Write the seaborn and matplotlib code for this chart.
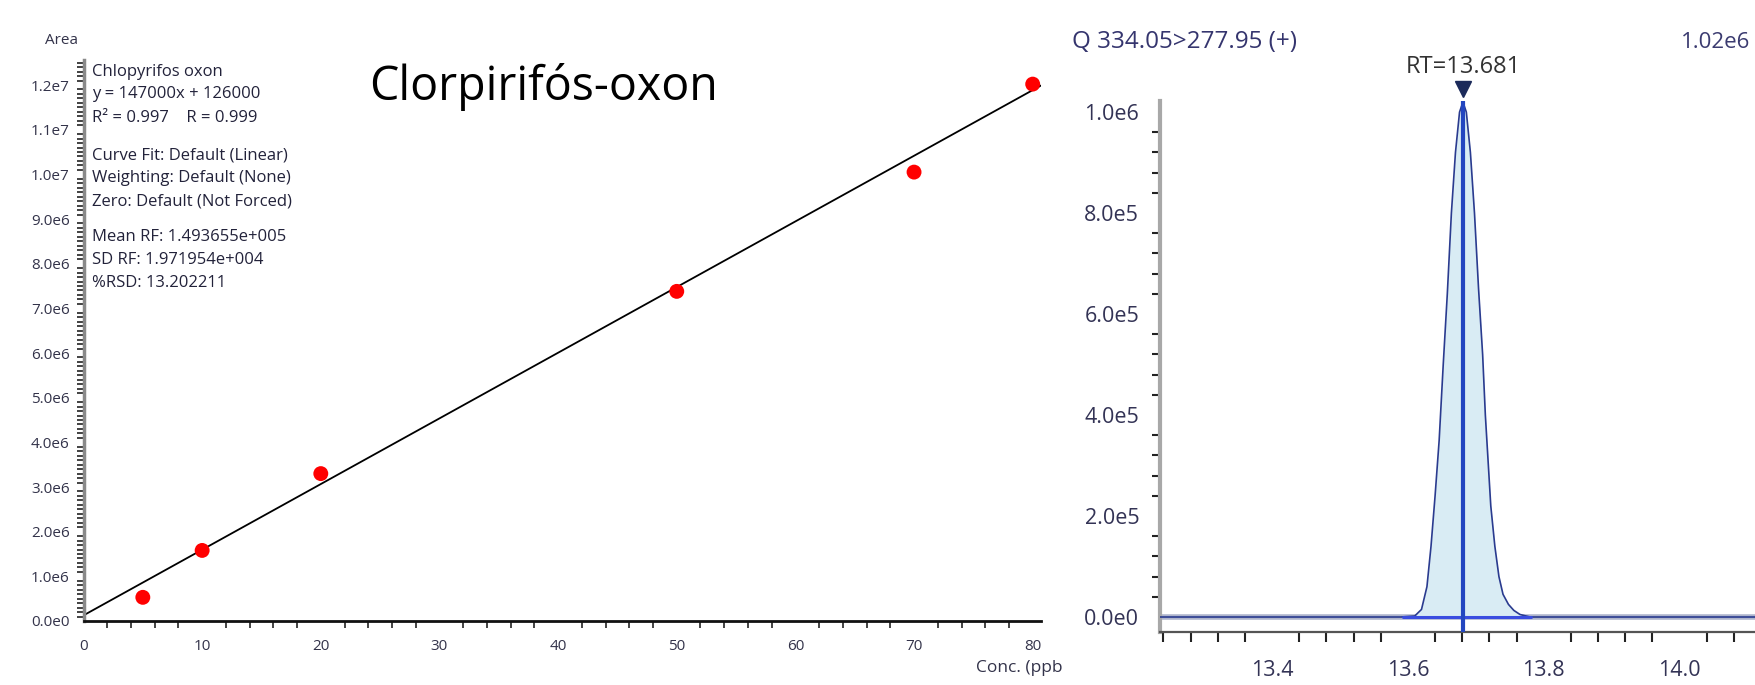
import seaborn as sns
import matplotlib.pyplot as plt
import matplotlib.ticker as mticker
import matplotlib.transforms as mtransforms
import numpy as np

sns.set_style("white")
plt.rcParams['font.family'] = ['Open Sans', 'DejaVu Sans']

# calibration curve
conc = [5, 10, 20, 50, 70, 80]
area = [0.53e6, 1.58e6, 3.30e6, 7.38e6, 10.05e6, 12.02e6]
slope = 147000
intercept = 126000
fit_text = ["Chlopyrifos oxon",
            "y = 147000x + 126000",
            "R\u00b2 = 0.997    R = 0.999",
            "Curve Fit: Default (Linear)",
            "Weighting: Default (None)",
            "Zero: Default (Not Forced)",
            "Mean RF: 1.493655e+005",
            "SD RF: 1.971954e+004",
            "%RSD: 13.202211"]

# chromatogram trace around the peak
rt_min = [13.234, 13.590, 13.610, 13.620, 13.628, 13.634, 13.640, 13.646, 13.652,
          13.658, 13.664, 13.670, 13.676, 13.681, 13.686, 13.692, 13.698, 13.704,
          13.710, 13.714, 13.722, 13.728, 13.734, 13.740, 13.748, 13.756, 13.765,
          13.780, 14.111]
signal = [0, 0, 0.002e6, 0.015e6, 0.060e6, 0.140e6, 0.240e6, 0.350e6, 0.500e6,
          0.640e6, 0.800e6, 0.920e6, 1.000e6, 1.020e6, 1.000e6, 0.920e6, 0.800e6, 0.650e6,
          0.520e6, 0.400e6, 0.220e6, 0.140e6, 0.080e6, 0.045e6, 0.025e6, 0.013e6, 0.005e6,
          0, 0]
peak_rt = 13.681
int_start, int_end = 13.593, 13.781


def sci(v, pos):
    if v == 0:
        return "0.0e0"
    e = int(np.floor(np.log10(abs(v)) + 1e-9))
    return f"{v / 10**e:.1f}e{e}"


W, H = 1755, 685
fig = plt.figure(figsize=(W / 100, H / 100), dpi=100)

def box(x0, y0, x1, y1):
    return [x0 / W, 1 - y1 / H, (x1 - x0) / W, (y1 - y0) / H]

# ---- calibration panel ----
ax1 = fig.add_axes(box(83.5, 60, 1041, 621))
sns.scatterplot(x=conc, y=area, color='#ff0000', s=115, edgecolor='none', zorder=3, ax=ax1)
ax1.axline((0, intercept), slope=slope, color='black', lw=1.3, zorder=2)
ax1.set_xlim(0, 80.7)
ax1.set_ylim(0, 12.56e6)
ax1.xaxis.set_major_locator(mticker.MultipleLocator(10))
ax1.xaxis.set_minor_locator(mticker.MultipleLocator(2))
ax1.yaxis.set_major_locator(mticker.MultipleLocator(1e6))
ax1.yaxis.set_minor_locator(mticker.MultipleLocator(1e5))
ax1.yaxis.set_major_formatter(mticker.FuncFormatter(sci))
ax1.tick_params(axis='both', which='both', direction='out', labelsize=11,
                labelcolor='#33334a', color='#222222')
ax1.tick_params(axis='y', which='major', length=8, width=1.5, pad=2)
ax1.tick_params(axis='y', which='minor', length=5, width=1.2, left=True)
ax1.tick_params(axis='x', which='major', length=6, width=1.5, pad=7)
ax1.tick_params(axis='x', which='minor', length=5, width=1.2, bottom=True)
for s in ['top', 'right']:
    ax1.spines[s].set_visible(False)
ax1.spines['left'].set_color('#8a8a8a')
ax1.spines['left'].set_linewidth(2.5)
ax1.spines['bottom'].set_color('#111111')
ax1.spines['bottom'].set_linewidth(2)
ax1.set_xlabel('')
ax1.set_ylabel('')

fig.text(62 / W, 1 - 40 / H, "Area", fontsize=11, color='#33334a', ha='center', va='center')
fig.text(976 / W, 1 - 668 / H, "Conc. (ppb", fontsize=12.5, color='#33334a', ha='left', va='center')
line_y = [72, 94, 118, 155, 178, 202, 237, 260, 283]
for txt, ly in zip(fit_text, line_y):
    fig.text(92 / W, 1 - ly / H, txt, fontsize=12, color='#22223a', ha='left', va='center')
fig.text(369 / W, 1 - 87 / H, "Clorpirif\u00f3s-oxon", fontsize=33.5, color='black',
         ha='left', va='center')

# ---- chromatogram panel ----
ax2 = fig.add_axes(box(1160, 101, 1755, 632))
ax2.plot([rt_min[0], rt_min[-1]], [0, 0], color='#aeb4cc', lw=4, zorder=1, solid_capstyle='butt')
ax2.fill_between(rt_min, signal, 0, color='#d9ecf4', zorder=2, lw=0)
sns.lineplot(x=rt_min, y=signal, color='#2a3b8f', lw=1.2, sort=False, estimator=None,
             zorder=3, ax=ax2)
ax2.plot([int_start, int_end], [0, 0], color='#3a4de0', lw=2.2, zorder=4)
ax2.axvline(peak_rt, color='#2346c0', lw=3, zorder=5)
ax2.plot([peak_rt], [1.045e6], marker='v', markersize=12, color='#1b2a5a',
         clip_on=False, zorder=6)
ax2.set_xlim(13.235, 14.111)
ax2.set_ylim(-0.0297e6, 1.022e6)
ax2.xaxis.set_major_locator(mticker.MultipleLocator(0.2))
ax2.xaxis.set_minor_locator(mticker.MultipleLocator(0.04))
ax2.xaxis.set_major_formatter(mticker.FormatStrFormatter('%.1f'))
ax2.yaxis.set_major_locator(mticker.MultipleLocator(2e5))
ax2.yaxis.set_minor_locator(mticker.MultipleLocator(4e4))
ax2.yaxis.set_major_formatter(mticker.FuncFormatter(sci))
ax2.tick_params(axis='both', which='both', direction='out', labelsize=15.5,
                labelcolor='#333355', color='#222222')
ax2.tick_params(axis='y', which='major', length=10, width=1.5, pad=5, color='#777777')
ax2.tick_params(axis='y', which='minor', length=6, width=1.5, left=True)
ax2.tick_params(axis='x', which='major', length=10, width=1.5, pad=10, color='#999999')
ax2.tick_params(axis='x', which='minor', length=7, width=1.5, bottom=True)
for s in ['top', 'right']:
    ax2.spines[s].set_visible(False)
ax2.spines['left'].set_color('#a8a8a8')
ax2.spines['left'].set_linewidth(3)
ax2.spines['bottom'].set_color('#555555')
ax2.spines['bottom'].set_linewidth(1.6)
ax2.set_xlabel('')
ax2.set_ylabel('')

fig.text(1072 / W, 1 - 42 / H, "Q 334.05>277.95 (+)", fontsize=17.5, color='#35356e',
         ha='left', va='center')
rt_trans = mtransforms.blended_transform_factory(ax2.transData, fig.transFigure)
fig.text(peak_rt, 1 - 67 / H, "RT=13.681", fontsize=17, color='#333333',
         ha='center', va='center', transform=rt_trans)
fig.text(1750 / W, 1 - 42 / H, "1.02e6", fontsize=16, color='#3b3b70',
         ha='right', va='center')

fig.savefig("out.png", dpi=100, facecolor='white')
